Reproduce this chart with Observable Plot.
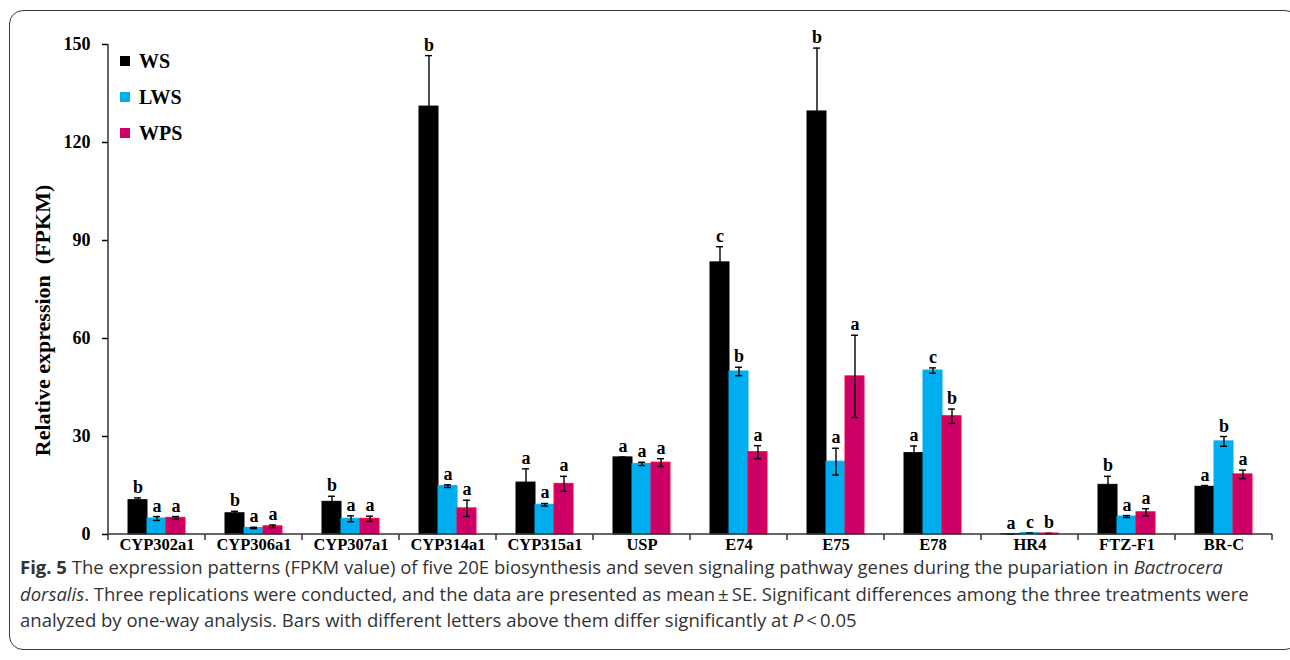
<!DOCTYPE html>
<html>
<head>
<meta charset="utf-8">
<script src="https://cdn.jsdelivr.net/npm/d3@7"></script>
<script src="https://cdn.jsdelivr.net/npm/@observablehq/plot@0.6"></script>
<style>
  html, body { margin: 0; padding: 0; background: #fff; }
  body { width: 1290px; height: 660px; position: relative; overflow: hidden; }
  #frame { position: absolute; left: 9px; top: 10px; width: 1290px; height: 640px;
           border: 1.5px solid #3a3a3a; border-radius: 14px; box-sizing: border-box; }
  #chart { position: absolute; left: 0; top: 0; }
  #legend { position: absolute; left: 120px; top: 43px; }
  #legend .lg-swatches { font-family: "Liberation Serif", "Times New Roman", serif; font-weight: bold;
                         font-size: 20px; color: #000; margin: 0; }
  #legend .lg-swatch { height: 36px; padding: 0; display: flex; align-items: center; }
  #legend .lg-swatch > svg { margin-right: 9px; }
  #caption { position: absolute; left: 20px; top: 558px; width: 1265px;
             font-family: "Open Sans", sans-serif; font-size: 18.5px; color: #333; white-space: nowrap; }
  #caption div { height: 18px; line-height: 18px; margin-bottom: 8.5px; }
  #caption b { font-weight: bold; }
  g[aria-label="y-axis label"] text { font-size: 22px; }
</style>
</head>
<body>
<div id="frame"></div>
<div id="chart"></div>
<div id="legend"></div>
<div id="caption"></div>
<script>
const genes = ["CYP302a1", "CYP306a1", "CYP307a1", "CYP314a1", "CYP315a1", "USP", "E74", "E75", "E78", "HR4", "FTZ-F1", "BR-C"];
const series = ["WS", "LWS", "WPS"];
const colors = ["#000000", "#00aeef", "#cc0066"];
const outlines = ["#000000", "#00aeef", "#ff0033"];

const ws     = [10.5, 6.5, 10.0, 131.0, 15.9, 23.6, 83.3, 129.5, 24.9, 0.1, 15.2, 14.6];
const wsErr  = [0.7, 0.6, 1.7, 15.6, 4.2, 0.1, 4.8, 19.4, 2.2, 0.05, 2.6, 0.4];
const lws    = [4.9, 2.0, 4.8, 14.8, 9.1, 21.6, 49.9, 22.3, 50.2, 0.4, 5.5, 28.5];
const lwsErr = [0.6, 0.2, 0.9, 0.4, 0.4, 0.5, 1.3, 4.1, 0.8, 0.05, 0.3, 1.5];
const wps    = [5.1, 2.5, 4.8, 8.0, 15.5, 22.0, 25.2, 48.4, 36.2, 0.3, 6.8, 18.4];
const wpsErr = [0.4, 0.4, 0.8, 2.5, 2.3, 1.2, 2.0, 12.6, 2.2, 0.05, 1.1, 1.3];

const wsLetters  = ["b", "b", "b", "b", "a", "a", "c", "b", "a", "a", "b", "a"];
const lwsLetters = ["a", "a", "a", "a", "a", "a", "b", "a", "c", "c", "a", "b"];
const wpsLetters = ["a", "a", "a", "a", "a", "a", "a", "a", "b", "b", "a", "a"];

const yTicks = [0, 30, 60, 90, 120, 150];

const valuesBySeries = [ws, lws, wps];
const errBySeries = [wsErr, lwsErr, wpsErr];
const lettersBySeries = [wsLetters, lwsLetters, wpsLetters];

const data = [];
genes.forEach((g, i) => {
  series.forEach((s, j) => {
    const v = valuesBySeries[j][i], e = errBySeries[j][i];
    data.push({gene: g, series: s, value: v, err: e, lo: v - e, hi: v + e, letter: lettersBySeries[j][i]});
  });
});

const serif = "Liberation Serif, Times New Roman, serif";

const axisFrame = (index, scales, values, dimensions, context) => {
  const gene = genes[index[0]];
  const [x0, x1] = scales.x.range();
  const y0 = scales.y(0);
  const g = d3.create("svg:g").attr("stroke", "#333").attr("stroke-width", 1.5).attr("fill", "none");
  g.append("line").attr("x1", x0).attr("x2", x1).attr("y1", y0).attr("y2", y0);
  g.append("line").attr("x1", x1).attr("x2", x1).attr("y1", y0).attr("y2", y0 + 6);
  if (gene === genes[0]) {
    const yTop = scales.y(yTicks[yTicks.length - 1]);
    g.append("line").attr("x1", x0).attr("x2", x0).attr("y1", y0 + 6).attr("y2", yTop);
  }
  return g.node();
};

const chart = Plot.plot({
  width: 1290,
  height: 560,
  marginLeft: 106,
  marginRight: 16,
  marginTop: 44,
  marginBottom: 26,
  style: {fontFamily: serif, fontWeight: "bold", color: "#000", background: "transparent"},
  fx: {domain: genes, padding: 0, axis: null, label: null},
  x: {domain: series, paddingInner: 0, paddingOuter: 0.93, axis: null},
  y: {domain: [0, 150], axis: null},
  color: {domain: series, range: colors},
  marks: [
    Plot.axisY({ticks: yTicks, tickSize: 6, tickPadding: 12, fontSize: 18, strokeWidth: 1.5,
                label: "Relative expression  (FPKM)", labelAnchor: "center", labelArrow: "none", labelOffset: 74}),
    Plot.axisFx({anchor: "bottom", tickSize: 0, tickPadding: 4, fontSize: 16.5, label: null}),
    Plot.barY(data, {fx: "gene", x: "series", y: "value", fill: "series",
                     stroke: d => outlines[series.indexOf(d.series)], strokeWidth: 1}),
    Plot.ruleX(data, {fx: "gene", x: "series", y1: "lo", y2: "hi", stroke: "#000", strokeWidth: 1.4}),
    Plot.tickY(data, {fx: "gene", x: "series", y: "hi", stroke: "#000", strokeWidth: 1.4, insetLeft: 6, insetRight: 6}),
    Plot.tickY(data, {fx: "gene", x: "series", y: "lo", stroke: "#000", strokeWidth: 1.4, insetLeft: 6, insetRight: 6}),
    Plot.text(data, {fx: "gene", x: "series", y: "hi", text: "letter", lineAnchor: "bottom", dy: -5,
                     fontSize: 18, fontWeight: "bold", fill: "#000"}),
    Plot.ruleY(genes, {fx: d => d, y: () => 0, render: axisFrame})
  ]
});
document.getElementById("chart").appendChild(chart);

// nudge the y-axis title down, as in the reference
const yLabel = chart.querySelector('g[aria-label="y-axis label"]');
if (yLabel) {
  const t = yLabel.getAttribute("transform");
  yLabel.setAttribute("transform", (t ? t + " " : "") + "translate(0,31)");
}

const legend = Plot.legend({color: {domain: series, range: colors}, legend: "swatches", columns: 1,
                            swatchSize: 10, className: "lg"});
document.getElementById("legend").appendChild(legend);

document.getElementById("caption").innerHTML =
  "<div><b>Fig. 5</b> The expression patterns (FPKM value) of five 20E biosynthesis and seven signaling pathway genes during the pupariation in <i>Bactrocera</i></div>" +
  "<div><i>dorsalis</i>. Three replications were conducted, and the data are presented as mean\u2009\u00b1\u2009SE. Significant differences among the three treatments were</div>" +
  "<div>analyzed by one-way analysis. Bars with different letters above them differ significantly at <i>P</i>\u2009&lt;\u20090.05</div>";
</script>
</body>
</html>
